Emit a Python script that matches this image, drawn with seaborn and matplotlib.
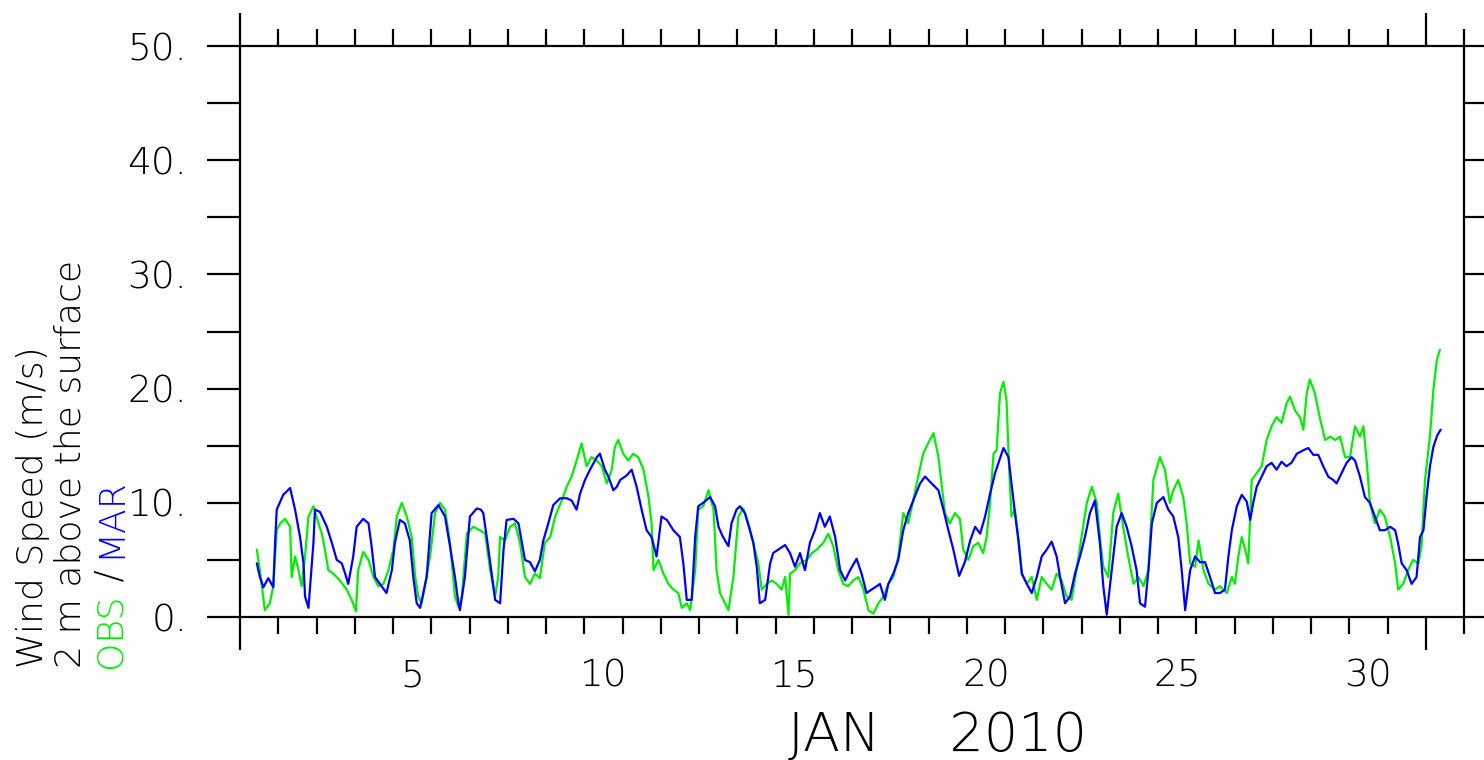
import matplotlib
matplotlib.use('Agg')
import matplotlib.pyplot as plt
import seaborn as sns

# time axis: days since 1 JAN 2010 00:00
obs_day = [0.44, 0.52, 0.65, 0.78, 0.87, 0.96, 1.05, 1.18, 1.31, 1.35, 1.44, 1.53, 1.61, 1.70, 1.79, 1.92,
           2.05, 2.14, 2.22, 2.31, 2.44, 2.61, 2.79, 2.92, 3.03, 3.09, 3.22, 3.36, 3.49, 3.62, 3.75, 3.88,
           4.01, 4.10, 4.23, 4.36, 4.49, 4.58, 4.66, 4.75, 4.84, 4.97, 5.10, 5.23, 5.36, 5.49, 5.62, 5.71,
           5.80, 5.93, 6.10, 6.27, 6.41, 6.54, 6.67, 6.75, 6.80, 6.93, 7.06, 7.19, 7.32, 7.45, 7.58, 7.71,
           7.84, 7.97, 8.11, 8.24, 8.41, 8.54, 8.67, 8.80, 8.93, 9.06, 9.19, 9.33, 9.46, 9.59, 9.72, 9.80,
           9.89, 10.02, 10.15, 10.28, 10.41, 10.55, 10.68, 10.76, 10.81, 10.94, 11.07, 11.20, 11.33, 11.46,
           11.55, 11.68, 11.77, 11.90, 11.98, 12.11, 12.25, 12.38, 12.46, 12.55, 12.68, 12.77, 12.90, 13.03,
           13.16, 13.29, 13.42, 13.55, 13.64, 13.77, 13.90, 14.03, 14.16, 14.25, 14.34, 14.38, 14.51, 14.64,
           14.82, 14.95, 15.08, 15.25, 15.38, 15.51, 15.64, 15.77, 15.90, 16.03, 16.17, 16.30, 16.43, 16.56,
           16.69, 16.82, 16.95, 17.08, 17.21, 17.34, 17.47, 17.60, 17.73, 17.86, 17.99, 18.13, 18.26, 18.34,
           18.43, 18.56, 18.69, 18.82, 18.91, 19.04, 19.17, 19.30, 19.43, 19.52, 19.61, 19.70, 19.78, 19.87,
           19.96, 20.04, 20.11, 20.17, 20.26, 20.35, 20.44, 20.57, 20.70, 20.83, 20.96, 21.09, 21.22, 21.35,
           21.48, 21.61, 21.74, 21.87, 22.00, 22.14, 22.27, 22.40, 22.48, 22.57, 22.70, 22.83, 22.96, 23.09,
           23.22, 23.36, 23.49, 23.62, 23.75, 23.88, 24.05, 24.18, 24.31, 24.40, 24.53, 24.66, 24.75, 24.84,
           24.97, 25.06, 25.19, 25.32, 25.49, 25.62, 25.80, 25.93, 26.01, 26.10, 26.19, 26.28, 26.36, 26.45,
           26.58, 26.71, 26.84, 26.97, 27.10, 27.23, 27.36, 27.45, 27.58, 27.71, 27.80, 27.89, 27.97, 28.10,
           28.24, 28.37, 28.50, 28.63, 28.76, 28.89, 29.02, 29.15, 29.28, 29.37, 29.46, 29.54, 29.67, 29.80,
           29.93, 30.07, 30.20, 30.28, 30.41, 30.54, 30.67, 30.81, 30.89, 30.98, 31.11, 31.20, 31.29, 31.37]
obs_speed = [5.9, 4.1, 0.6, 1.2, 2.7, 7.6, 8.2, 8.6, 7.9, 3.5, 5.3, 4.1, 2.7, 5.3, 8.8, 9.7,
             8.2, 7.3, 5.9, 4.1, 3.8, 3.2, 2.4, 1.5, 0.5, 4.1, 5.7, 5.0, 3.5, 2.7, 2.9, 4.1,
             5.9, 8.8, 10.0, 8.8, 7.0, 3.5, 1.8, 1.2, 2.9, 5.3, 9.1, 10.0, 9.4, 6.5, 1.8, 0.9,
             1.8, 7.3, 7.9, 7.6, 7.3, 4.1, 1.8, 3.5, 7.0, 6.7, 7.9, 8.2, 6.5, 3.5, 2.9, 3.8,
             3.4, 6.5, 7.0, 8.8, 10.2, 11.4, 12.3, 13.7, 15.2, 13.2, 14.0, 13.7, 13.2, 11.7, 12.9, 14.9,
             15.5, 14.3, 13.7, 14.3, 14.0, 12.9, 10.5, 8.2, 4.1, 5.0, 3.8, 2.9, 2.4, 2.1,
             0.8, 1.2, 0.6, 4.1, 9.4, 9.7, 11.1, 9.4, 4.1, 2.1, 1.2, 0.6, 3.5, 8.8,
             9.5, 8.2, 6.5, 4.7, 2.4, 2.9, 3.2, 2.9, 2.4, 3.5, 0.2, 3.8, 4.1, 4.7,
             5.0, 5.6, 5.9, 6.5, 7.3, 6.2, 4.1, 2.9, 2.7, 3.2, 3.5, 2.4, 0.6, 0.3,
             1.2, 1.8, 2.9, 3.5, 5.3, 9.1, 8.2, 10.2, 12.3, 14.3, 15.2, 16.1, 14.0, 11.7,
             9.1, 8.2, 9.1, 8.6, 5.9, 5.0, 6.2, 6.5, 5.6, 7.0, 10.0, 14.3, 14.6, 19.6,
             20.6, 19.0, 12.9, 8.8, 9.4, 7.0, 3.8, 2.9, 3.5, 1.5, 3.5, 2.9, 2.4, 3.8,
             3.2, 1.8, 1.5, 4.1, 7.0, 10.0, 11.4, 10.0, 7.0, 4.4, 3.5, 9.1, 10.8, 7.9,
             5.3, 2.9, 3.5, 2.7, 4.1, 12.0, 14.0, 12.9, 10.0, 11.1, 12.0, 10.5, 8.2, 4.7,
             4.4, 6.7, 4.1, 2.9, 2.4, 2.7, 2.1, 3.5, 2.9, 5.3, 7.0, 5.9, 4.7, 12.0,
             12.6, 13.2, 15.5, 16.7, 17.5, 17.0, 18.7, 19.3, 18.1, 17.5, 16.4, 19.6, 20.8, 19.6,
             17.3, 15.5, 15.8, 15.5, 15.8, 14.0, 14.0, 16.7, 15.8, 16.7, 13.5, 10.0, 8.2, 9.4,
             8.8, 7.0, 4.7, 2.4, 2.9, 4.1, 5.0, 4.7, 6.2, 12.0, 15.8, 19.9, 22.5, 23.4]

mar_day = [0.44, 0.52, 0.61, 0.74, 0.87, 0.92, 0.96, 1.13, 1.31, 1.44, 1.57, 1.66, 1.70, 1.79, 1.92, 1.96,
           2.09, 2.27, 2.40, 2.53, 2.66, 2.75, 2.83, 2.96, 3.05, 3.22, 3.36, 3.44, 3.53, 3.66, 3.83, 3.97,
           4.05, 4.18, 4.31, 4.44, 4.53, 4.62, 4.71, 4.88, 5.01, 5.19, 5.36, 5.49, 5.62, 5.71, 5.75, 5.88,
           6.01, 6.19, 6.30, 6.36, 6.45, 6.58, 6.67, 6.80, 6.89, 6.97, 7.15, 7.28, 7.36, 7.45, 7.58, 7.71,
           7.84, 7.93, 8.06, 8.19, 8.37, 8.54, 8.67, 8.80, 8.89, 9.02, 9.15, 9.33, 9.41, 9.54, 9.63, 9.76,
           9.85, 9.94, 10.11, 10.24, 10.37, 10.50, 10.63, 10.76, 10.89, 11.02, 11.16, 11.33, 11.50, 11.59,
           11.68, 11.81, 11.90, 11.98, 12.11, 12.29, 12.42, 12.51, 12.60, 12.68, 12.77, 12.85, 12.98, 13.07,
           13.20, 13.33, 13.42, 13.51, 13.59, 13.73, 13.86, 13.94, 14.07, 14.25, 14.38, 14.51, 14.64, 14.77,
           14.90, 15.03, 15.16, 15.29, 15.42, 15.56, 15.69, 15.82, 15.95, 16.12, 16.25, 16.38, 16.51, 16.65,
           16.73, 16.86, 16.95, 17.08, 17.21, 17.34, 17.47, 17.60, 17.78, 17.91, 18.08, 18.26, 18.39, 18.52,
           18.65, 18.80, 18.95, 19.09, 19.22, 19.35, 19.48, 19.61, 19.74, 19.83, 19.96, 20.09, 20.17, 20.26,
           20.35, 20.44, 20.57, 20.70, 20.83, 20.96, 21.09, 21.22, 21.35, 21.44, 21.57, 21.70, 21.83, 21.96,
           22.09, 22.22, 22.35, 22.48, 22.57, 22.66, 22.79, 22.92, 23.05, 23.18, 23.31, 23.44, 23.53, 23.66,
           23.75, 23.84, 23.97, 24.14, 24.27, 24.40, 24.53, 24.62, 24.71, 24.84, 24.97, 25.10, 25.23, 25.36,
           25.49, 25.62, 25.75, 25.84, 25.93, 26.06, 26.19, 26.32, 26.41, 26.49, 26.58, 26.71, 26.84, 26.97,
           27.10, 27.23, 27.36, 27.49, 27.63, 27.80, 27.93, 28.06, 28.19, 28.32, 28.45, 28.58, 28.67, 28.80,
           28.93, 29.06, 29.15, 29.28, 29.41, 29.54, 29.67, 29.80, 29.93, 30.07, 30.20, 30.28, 30.37, 30.50,
           30.63, 30.76, 30.85, 30.94, 31.02, 31.11, 31.20, 31.30, 31.39]
mar_speed = [4.7, 3.5, 2.6, 3.4, 2.6, 6.7, 9.4, 10.7, 11.3, 9.4, 7.0, 4.7, 1.8, 0.8, 6.5, 9.4,
             9.2, 7.9, 6.5, 5.0, 4.7, 3.8, 2.9, 5.3, 7.9, 8.6, 8.2, 6.2, 3.5, 2.9, 2.1, 4.1,
             6.5, 8.5, 8.2, 6.7, 3.5, 1.2, 0.8, 3.5, 9.1, 9.8, 8.8, 6.2, 3.5, 1.2, 0.6, 3.5,
             8.8, 9.5, 9.4, 9.1, 7.0, 3.8, 1.5, 1.2, 5.9, 8.5, 8.6, 8.2, 6.7, 5.0, 4.8, 4.0,
             5.0, 6.7, 8.2, 9.8, 10.4, 10.4, 10.2, 9.4, 10.8, 12.0, 12.9, 14.0, 14.3, 12.9, 12.3, 11.1,
             11.4, 12.0, 12.4, 12.9, 11.4, 9.4, 7.6, 7.0, 5.3, 8.8, 8.5, 7.6, 7.0, 4.7,
             1.5, 1.5, 7.0, 9.7, 10.0, 10.5, 9.7, 7.9, 7.2, 6.7, 6.2, 8.2, 9.4, 9.7,
             9.1, 7.6, 6.5, 4.4, 1.2, 1.5, 4.7, 5.6, 5.9, 6.3, 5.6, 4.4, 5.6, 4.1,
             6.5, 7.6, 9.1, 7.9, 8.8, 7.0, 4.1, 3.2, 4.1, 5.1, 3.8, 2.1, 2.4, 2.7,
             2.9, 1.5, 2.9, 3.8, 5.0, 7.6, 9.1, 10.2, 11.7, 12.3, 11.7, 11.1, 9.4, 7.6,
             5.9, 3.6, 4.8, 6.7, 7.9, 7.3, 8.8, 10.8, 12.6, 13.5, 14.8, 14.0, 11.7, 9.1,
             6.7, 3.8, 2.9, 2.1, 3.5, 5.3, 5.9, 6.6, 5.3, 3.5, 1.2, 1.8, 3.8, 5.3,
             7.0, 9.1, 10.2, 6.5, 2.7, 0.2, 4.1, 7.9, 9.1, 7.9, 6.2, 4.1, 1.2, 0.9,
             4.1, 8.2, 10.0, 10.5, 9.4, 8.8, 7.0, 4.1, 0.6, 4.1, 5.3, 4.8, 4.8, 3.5,
             2.1, 2.1, 2.4, 5.3, 7.6, 9.7, 10.7, 10.1, 8.5, 10.0, 11.4, 12.3, 13.2, 13.5,
             12.9, 13.6, 13.2, 13.5, 14.3, 14.6, 14.8, 14.2, 14.2, 13.2, 12.3, 12.0, 11.7, 12.6,
             13.5, 14.0, 13.7, 12.3, 10.5, 10.0, 8.8, 7.6, 7.6, 7.9, 7.6, 6.4, 4.7, 4.1,
             2.9, 3.5, 7.0, 7.6, 10.5, 13.2, 14.9, 15.9, 16.4]

day_ticks = list(range(0, 33))
month_ticks = [0, 31]
day_labels = ['5', '10', '15', '20', '25', '30']
label_pos = [4.5, 9.5, 14.5, 19.5, 24.5, 29.5]
y_major = [0, 10, 20, 30, 40, 50]
y_labels = ['0.', '10.', '20.', '30.', '40.', '50.']
y_minor = [5, 15, 25, 35, 45]

obs_color = '#00f000'
mar_color = '#0000ff'

sns.set_theme(style='ticks')
plt.rcParams['font.family'] = ['DejaVu Sans']
plt.rcParams['font.weight'] = 'light'
for k in ['text.color', 'axes.labelcolor', 'xtick.color', 'ytick.color', 'axes.edgecolor']:
    plt.rcParams[k] = 'black'

fig = plt.figure(figsize=(14.84, 7.6), dpi=100)
ax = fig.add_axes([240 / 1484, 143 / 760, 1224 / 1484, 571 / 760])

sns.lineplot(x=obs_day, y=obs_speed, color=obs_color, lw=1.6, ax=ax, estimator=None, sort=False)
sns.lineplot(x=mar_day, y=mar_speed, color=mar_color, lw=1.6, ax=ax, estimator=None, sort=False)

ax.set_xlim(0, 32)
ax.set_ylim(0, 50)
for s in ax.spines.values():
    s.set_linewidth(1.6)

ax.set_xticks(month_ticks)
ax.set_xticks(day_ticks, minor=True)
ax.tick_params(axis='x', which='major', length=24, width=1.6, top=True, bottom=True,
               direction='out', labelbottom=False)
ax.tick_params(axis='x', which='minor', length=12.5, width=1.6, top=True, bottom=True,
               direction='out')
ax.set_yticks(y_major, labels=y_labels)
ax.set_yticks(y_minor, minor=True)
ax.tick_params(axis='y', which='both', length=24, width=1.6, left=True, right=True,
               direction='out', pad=14, labelsize=27)

sec = ax.secondary_xaxis('bottom')
sec.set_xticks(label_pos, labels=day_labels)
sec.tick_params(length=0, pad=30, labelsize=27)
sec.spines['bottom'].set_visible(False)

fig.text(937 / 1484, 9 / 760, 'JAN    2010', ha='center', va='baseline', fontsize=39)

fig.text(33 / 1484, 92 / 760, 'Wind Speed (m/s)', rotation=90, ha='center', va='bottom', fontsize=26)
fig.text(71 / 1484, 92 / 760, '2 m above the surface', rotation=90, ha='center', va='bottom', fontsize=26)

# colored last line, pieces stacked upward
fig.canvas.draw()
r = fig.canvas.get_renderer()
y0 = 92
for txt, col in [('OBS', obs_color), (' / ', 'black'), ('MAR', mar_color)]:
    t = fig.text(110 / 1484, y0 / 760, txt, rotation=90, ha='center', va='bottom', fontsize=26, color=col)
    y0 += t.get_window_extent(r).height

fig.savefig('out.png', dpi=100)
